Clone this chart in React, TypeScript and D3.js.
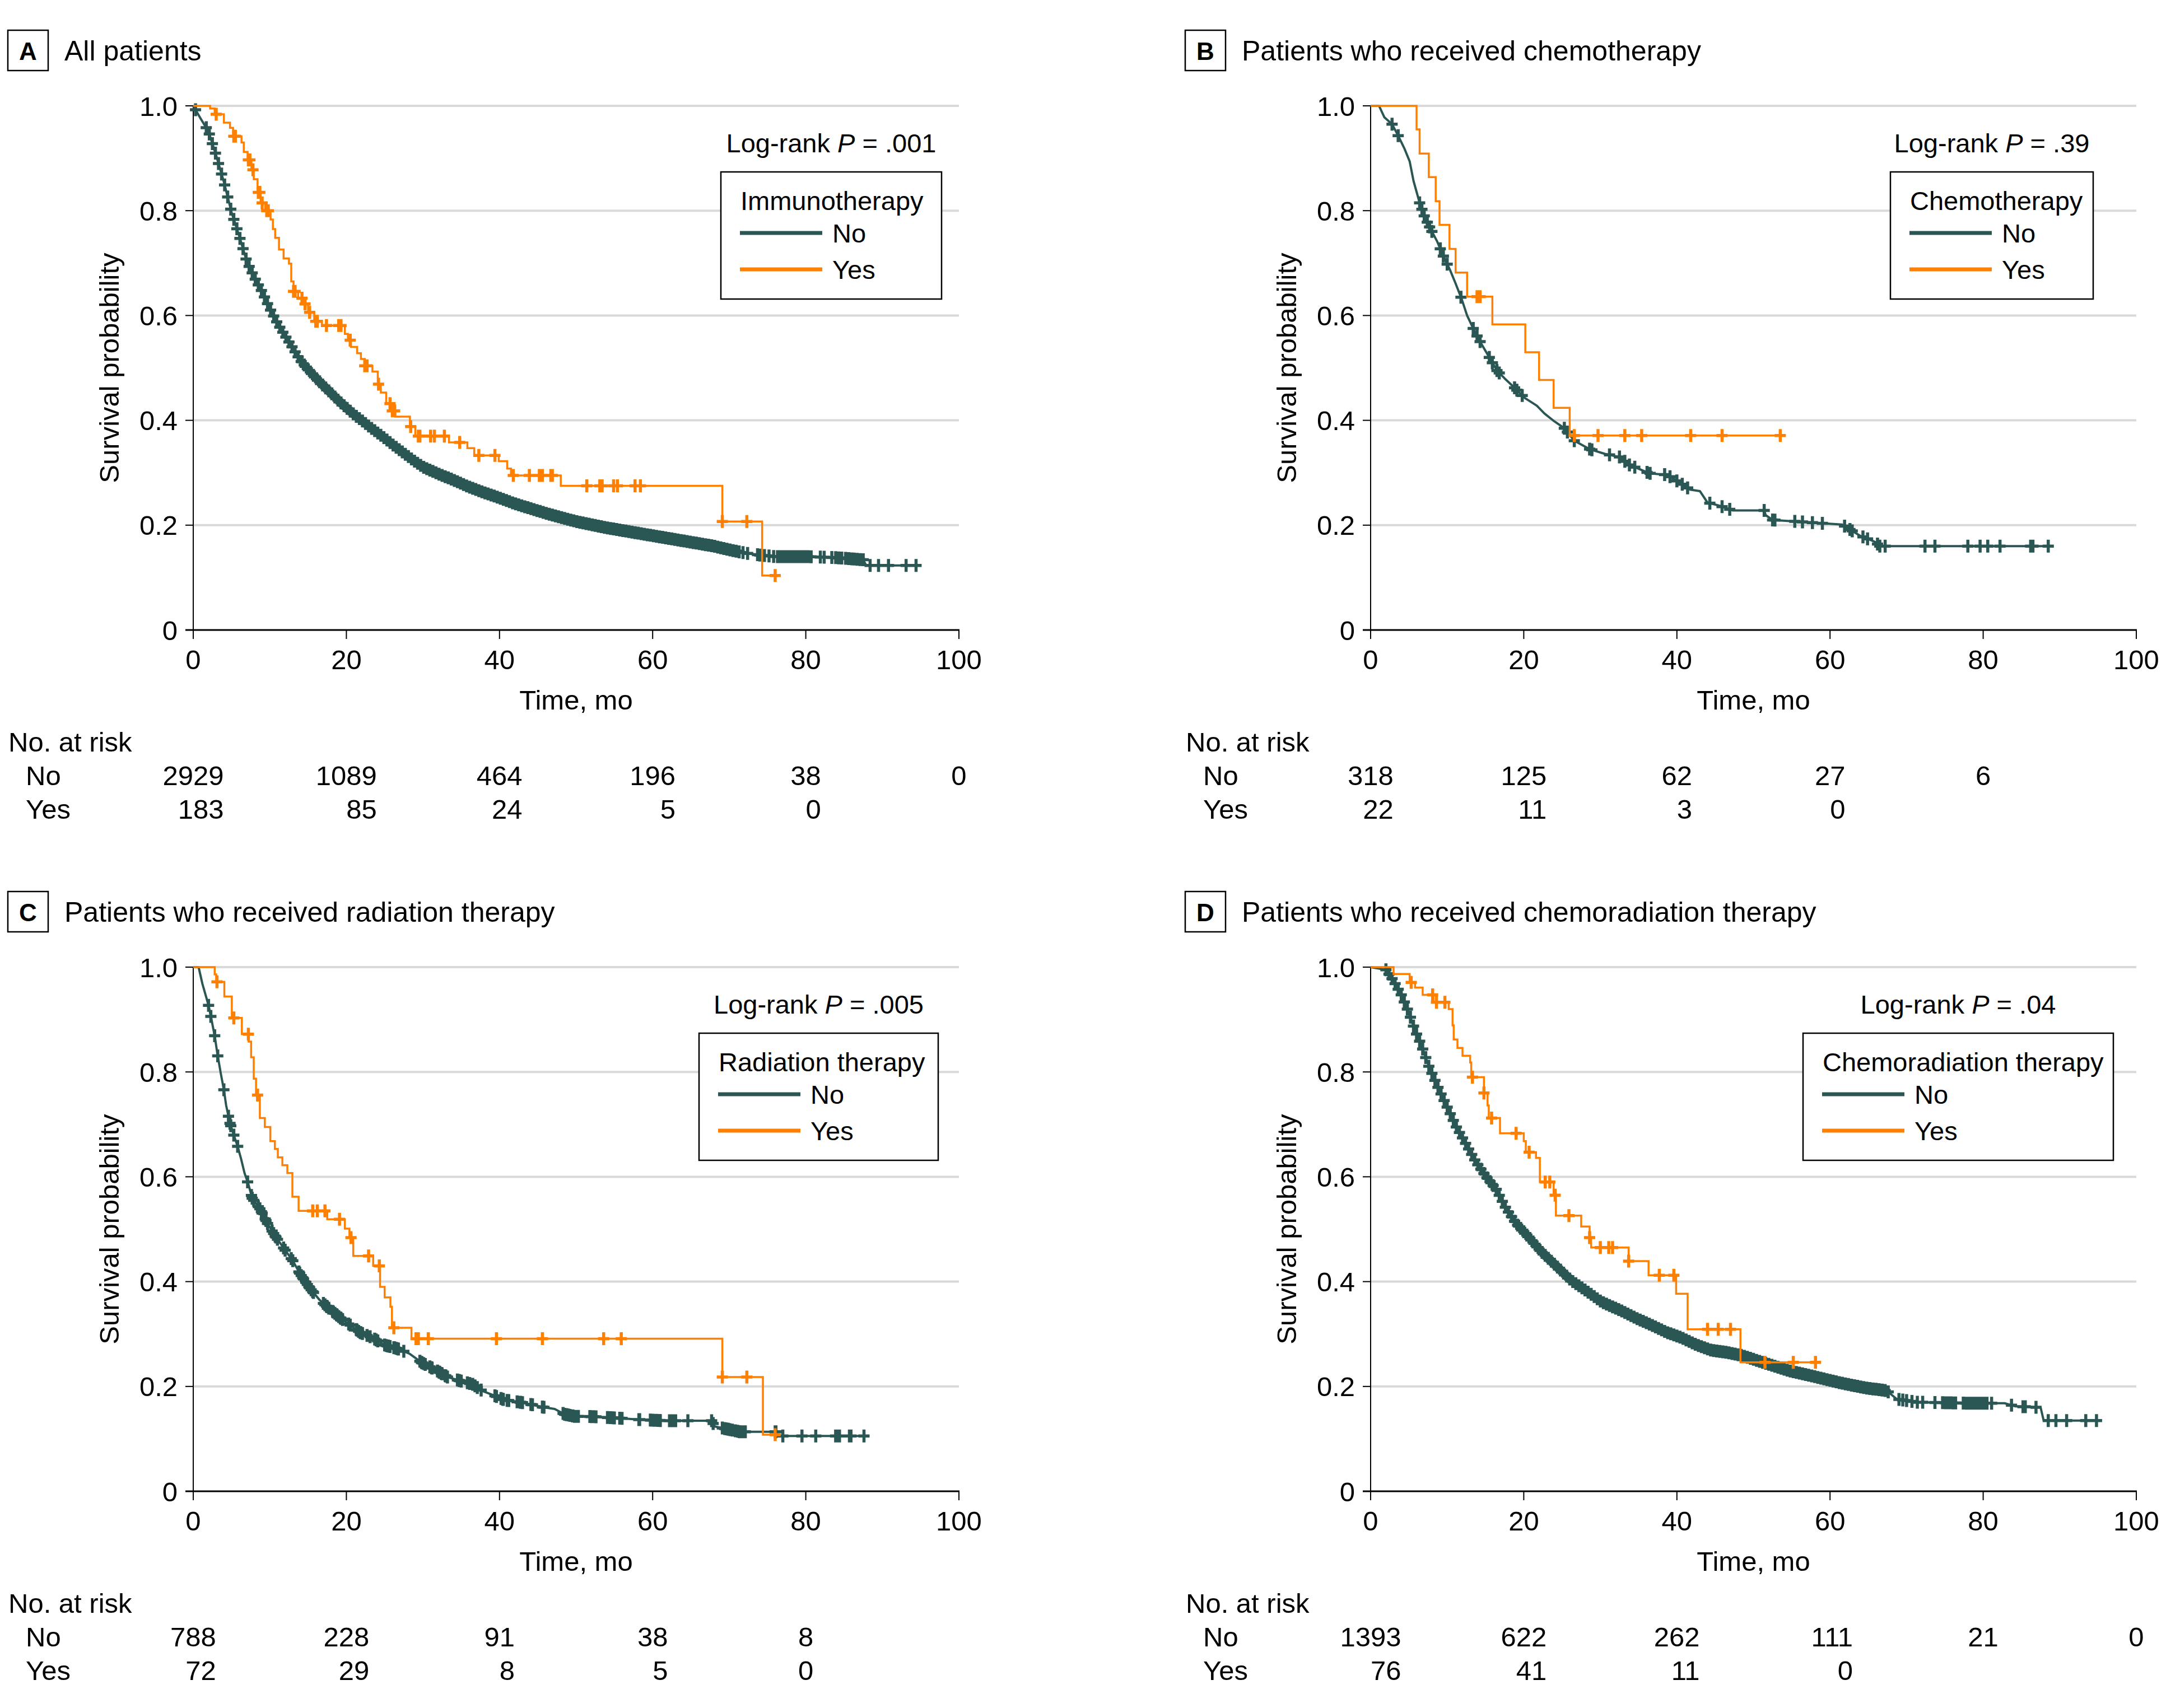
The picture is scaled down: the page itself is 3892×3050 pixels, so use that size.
import React from 'react';
import * as d3 from 'd3';

const FONT = "'Liberation Sans', Arial, Helvetica, sans-serif";
const TEAL = '#2a5654';
const ORANGE = '#ff8000';

// ---------- Panel texts ----------
const panelLetters = ['A', 'B', 'C', 'D'];
const panelTitles = [
  'All patients',
  'Patients who received chemotherapy',
  'Patients who received radiation therapy',
  'Patients who received chemoradiation therapy',
];
const legendTitles = ['Immunotherapy', 'Chemotherapy', 'Radiation therapy', 'Chemoradiation therapy'];
const groupLabels = ['No', 'Yes'];
const pValues = ['.001', '.39', '.005', '.04'];
const xTicks = [0, 20, 40, 60, 80, 100];
const yTicks = [0, 0.2, 0.4, 0.6, 0.8, 1.0];
const yTickLabels = ['0', '0.2', '0.4', '0.6', '0.8', '1.0'];

// ---------- Numbers at risk ----------
const riskNoA = ['2929', '1089', '464', '196', '38', '0'];
const riskYesA = ['183', '85', '24', '5', '0'];
const riskNoB = ['318', '125', '62', '27', '6'];
const riskYesB = ['22', '11', '3', '0'];
const riskNoC = ['788', '228', '91', '38', '8'];
const riskYesC = ['72', '29', '8', '5', '0'];
const riskNoD = ['1393', '622', '262', '111', '21', '0'];
const riskYesD = ['76', '41', '11', '0'];

// ---------- Panel A: all patients ----------
const aNoT = [0, 1, 2, 3, 4, 5, 6, 7, 8, 9, 10, 11, 12, 13, 14, 15, 16, 17, 18, 19, 20, 21, 22, 23, 24, 25, 26, 27, 28, 29, 30, 32, 34, 36, 38, 40, 42, 44, 46, 48, 50, 52, 54, 56, 58, 60, 62, 64, 66, 68, 70, 72, 74, 76, 80, 84, 87.5, 87.9, 95];
const aNoS = [1, 0.975, 0.951, 0.905, 0.855, 0.797, 0.752, 0.703, 0.672, 0.645, 0.613, 0.585, 0.561, 0.538, 0.514, 0.497, 0.481, 0.466, 0.452, 0.437, 0.424, 0.411, 0.4, 0.388, 0.377, 0.366, 0.354, 0.343, 0.332, 0.321, 0.311, 0.298, 0.286, 0.273, 0.262, 0.252, 0.241, 0.232, 0.223, 0.215, 0.207, 0.201, 0.195, 0.19, 0.185, 0.18, 0.175, 0.17, 0.165, 0.16, 0.153, 0.147, 0.143, 0.14, 0.14, 0.138, 0.134, 0.123, 0.123];
const aNoC = [0.3, 1.7, 2.1, 2.5, 2.9, 3.3, 3.7, 4.1, 4.5, 4.9, 5.3, 5.7, 6.1, 6.5, 6.9, 7.3, 7.7, 8.1, 8.5, 8.9, 9.3, 9.7, 10.1, 10.5, 10.9, 11.3, 11.7, 12.1, 12.5, 12.9, 13.3, 13.7, 14.1, 14.5, 14.9, 15.3, 15.7, 16.1, 16.5, 16.9, 17.3, 17.7, 18.1, 18.5, 18.9, 19.3, 19.7, 20.1, 20.5, 20.9, 21.3, 21.7, 22.1, 22.5, 22.9, 23.3, 23.7, 24.1, 24.5, 24.9, 25.3, 25.7, 26.1, 26.5, 26.9, 27.3, 27.7, 28.1, 28.5, 28.9, 29.3, 29.7, 30.1, 30.5, 30.9, 31.3, 31.7, 32.1, 32.5, 32.9, 33.3, 33.7, 34.1, 34.5, 34.9, 35.3, 35.7, 36.1, 36.5, 36.9, 37.3, 37.7, 38.1, 38.5, 38.9, 39.3, 39.7, 40.1, 40.5, 40.9, 41.3, 41.7, 42.1, 42.5, 42.9, 43.3, 43.7, 44.1, 44.5, 44.9, 45.3, 45.7, 46.1, 46.5, 46.9, 47.3, 47.7, 48.1, 48.5, 48.9, 49.3, 49.7, 50.1, 50.5, 50.9, 51.3, 51.7, 52.1, 52.5, 52.9, 53.3, 53.7, 54.1, 54.5, 54.9, 55.3, 55.7, 56.1, 56.5, 56.9, 57.3, 57.7, 58.1, 58.5, 58.9, 59.3, 59.7, 60.1, 60.5, 60.9, 61.3, 61.7, 62.1, 62.5, 62.9, 63.3, 63.7, 64.1, 64.5, 64.9, 65.3, 65.7, 66.1, 66.5, 66.9, 67.3, 67.7, 68.1, 68.5, 68.9, 69.3, 69.7, 70.1, 70.5, 70.9, 71.3, 71.8, 72.4, 73.7, 74.0, 74.6, 75.2, 75.8, 76.3, 76.7, 77.1, 77.5, 77.9, 78.3, 78.7, 79.1, 79.5, 79.9, 80.3, 80.7, 81.9, 82.4, 83.4, 83.9, 84.3, 84.7, 85.2, 85.6, 86.0, 86.3, 86.7, 87.1, 87.5, 88.4, 89.5, 90.8, 93.1, 94.4];
const aYesT = [0, 2.2, 2.8, 4.0, 4.8, 5.2, 6.3, 6.6, 7.1, 7.6, 7.9, 8.4, 8.8, 9.4, 10.1, 10.4, 10.7, 11.2, 11.8, 12.5, 12.8, 13.1, 13.7, 14.4, 15.0, 15.8, 16.8, 19.8, 20.2, 20.6, 21.4, 21.9, 22.4, 23.4, 24.1, 24.5, 25.2, 25.8, 26.4, 28.3, 29.0, 33.4, 35.8, 36.7, 39.9, 41.0, 41.5, 48.0, 69.1, 74.3, 76.0];
const aYesS = [1, 0.995, 0.984, 0.968, 0.958, 0.942, 0.93, 0.912, 0.897, 0.878, 0.86, 0.835, 0.815, 0.8, 0.783, 0.765, 0.748, 0.726, 0.709, 0.699, 0.665, 0.646, 0.633, 0.622, 0.606, 0.589, 0.581, 0.565, 0.553, 0.54, 0.528, 0.517, 0.504, 0.493, 0.469, 0.453, 0.432, 0.418, 0.407, 0.388, 0.37, 0.358, 0.347, 0.333, 0.322, 0.308, 0.295, 0.275, 0.207, 0.104, 0.104];
const aYesC = [3.0, 5.3, 5.5, 7.2, 7.4, 7.8, 8.5, 8.7, 9.0, 9.6, 9.8, 13.1, 13.3, 14.2, 14.6, 15.2, 16.0, 16.2, 17.4, 19.0, 19.3, 20.5, 22.4, 22.7, 24.2, 25.7, 26.0, 26.3, 28.4, 29.4, 29.6, 31.0, 31.5, 32.8, 34.8, 37.3, 39.4, 41.8, 43.9, 45.2, 45.6, 46.7, 46.9, 51.4, 53.1, 53.4, 54.9, 55.4, 57.7, 58.4, 69.1, 72.3, 76.0];

// ---------- Panel B: chemotherapy ----------
const bNoT = [0, 1.1, 1.8, 2.8, 3.6, 4.4, 5.1, 5.6, 6.4, 7.0, 7.8, 8.7, 9.6, 10.4, 11.1, 11.9, 12.6, 13.6, 14.5, 15.5, 16.5, 17.5, 18.8, 20.1, 21.7, 22.7, 24.0, 25.3, 26.6, 28.6, 30.6, 32.5, 33.8, 36.4, 38.7, 40.4, 41.7, 43.0, 44.0, 45.6, 47.3, 51.4, 51.6, 52.5, 61.6, 62.9, 63.9, 64.9, 65.9, 66.5, 88.8];
const bNoS = [1, 1, 0.978, 0.965, 0.943, 0.919, 0.894, 0.857, 0.815, 0.79, 0.766, 0.741, 0.71, 0.686, 0.661, 0.631, 0.6, 0.569, 0.545, 0.52, 0.495, 0.48, 0.462, 0.443, 0.428, 0.413, 0.398, 0.385, 0.361, 0.345, 0.336, 0.33, 0.315, 0.299, 0.296, 0.281, 0.268, 0.265, 0.243, 0.237, 0.228, 0.228, 0.219, 0.21, 0.201, 0.189, 0.18, 0.174, 0.168, 0.16, 0.16];
const bNoC = [2.8, 3.6, 6.4, 6.7, 7.0, 7.4, 7.7, 8.0, 9.1, 9.5, 10.0, 11.8, 13.4, 13.9, 14.3, 15.5, 15.9, 16.5, 16.8, 18.8, 19.1, 19.8, 25.3, 25.7, 26.6, 28.6, 28.9, 31.2, 32.5, 33.2, 33.8, 34.5, 36.1, 36.5, 38.4, 39.1, 40.0, 40.7, 41.4, 44.3, 45.9, 46.9, 51.4, 52.5, 52.8, 55.4, 56.4, 57.7, 59.0, 61.9, 62.6, 62.9, 64.3, 64.9, 66.2, 66.5, 67.2, 72.4, 73.7, 78.0, 79.6, 80.6, 82.2, 86.2, 86.5, 88.5];
const bYesT = [0, 6.0, 6.4, 7.6, 8.5, 9.0, 10.3, 11.1, 12.6, 15.9, 20.2, 22.0, 23.9, 26.0, 53.5];
const bYesS = [1, 0.955, 0.909, 0.864, 0.818, 0.773, 0.727, 0.682, 0.636, 0.583, 0.53, 0.477, 0.424, 0.371, 0.371];
const bYesC = [13.9, 14.3, 26.6, 29.7, 33.2, 35.4, 41.8, 45.9, 53.5];

// ---------- Panel C: radiation therapy ----------
const cNoT = [0, 0.7, 1.2, 2.0, 2.3, 2.8, 3.15, 3.6, 4.0, 4.3, 4.8, 5.4, 5.8, 6.25, 6.7, 7.2, 7.7, 8.7, 9.7, 10.7, 12.0, 13.0, 13.9, 15.2, 16.5, 17.8, 19.2, 20.5, 21.8, 23.4, 25.0, 26.7, 28.3, 29.9, 31.6, 33.2, 34.8, 36.5, 37.8, 39.1, 40.7, 42.7, 44.6, 45.9, 47.2, 48.5, 49.8, 51.3, 54.6, 58.0, 61.4, 67.7, 68.1, 71.4, 76.1, 76.5, 87.6];
const cNoS = [1, 1, 0.968, 0.927, 0.906, 0.869, 0.835, 0.797, 0.766, 0.736, 0.702, 0.675, 0.658, 0.634, 0.607, 0.586, 0.559, 0.539, 0.511, 0.487, 0.46, 0.44, 0.416, 0.388, 0.365, 0.348, 0.331, 0.317, 0.303, 0.293, 0.279, 0.272, 0.262, 0.245, 0.232, 0.218, 0.211, 0.204, 0.191, 0.184, 0.174, 0.17, 0.164, 0.16, 0.157, 0.147, 0.143, 0.143, 0.1405, 0.137, 0.1347, 0.1347, 0.1237, 0.1136, 0.1136, 0.1055, 0.1055];
const cNoC = [2.0, 2.3, 2.8, 3.2, 4.0, 4.6, 4.8, 4.9, 5.3, 5.8, 7.1, 7.6, 7.7, 7.9, 8.5, 8.7, 8.9, 9.0, 9.4, 9.5, 9.7, 10.3, 10.5, 10.7, 10.8, 11.0, 11.8, 12.0, 12.8, 13.0, 13.8, 13.9, 14.1, 14.3, 14.4, 14.7, 14.9, 15.1, 15.2, 15.4, 15.6, 15.7, 17.0, 17.2, 17.4, 17.5, 17.7, 18.2, 18.3, 18.5, 18.7, 18.8, 19.0, 19.2, 19.3, 19.5, 20.3, 20.5, 21.3, 21.4, 21.6, 21.8, 21.9, 22.1, 22.7, 23.1, 23.7, 23.9, 24.1, 25.0, 25.2, 25.4, 25.5, 25.7, 26.2, 26.3, 26.5, 26.7, 26.8, 27.5, 29.6, 29.8, 29.9, 30.1, 30.3, 30.9, 31.1, 31.2, 31.9, 32.1, 32.2, 32.4, 32.5, 32.9, 33.0, 33.2, 34.5, 34.7, 34.8, 35.0, 35.8, 36.1, 36.5, 36.8, 37.1, 37.6, 39.4, 39.6, 40.2, 40.4, 40.5, 41.0, 41.2, 42.3, 42.7, 42.8, 43.0, 44.1, 44.3, 45.6, 45.8, 48.3, 48.5, 48.7, 48.8, 49.0, 49.2, 49.5, 49.6, 49.8, 50.1, 50.3, 51.8, 52.0, 52.1, 52.3, 52.6, 54.1, 54.5, 54.8, 55.0, 55.7, 56.0, 58.2, 58.3, 59.7, 59.8, 60.0, 60.2, 60.4, 60.5, 60.7, 60.9, 61.0, 62.2, 62.4, 62.5, 62.7, 62.9, 63.0, 64.6, 67.7, 67.9, 69.1, 69.4, 69.6, 69.8, 69.9, 70.1, 70.4, 70.8, 71.1, 71.3, 71.4, 71.8, 72.1, 76.0, 76.1, 77.0, 79.5, 81.3, 83.9, 84.0, 84.2, 84.4, 85.7, 85.9, 87.6];
const cYesT = [0, 2.8, 3.0, 4.06, 5.04, 6.35, 7.23, 7.56, 7.9, 8.2, 8.7, 9.35, 10.07, 10.66, 11.05, 11.64, 12.29, 12.95, 13.76, 17.5, 19.8, 20.4, 20.9, 23.5, 24.4, 25.0, 25.75, 25.95, 28.5, 69.1, 74.4, 76.5];
const cYesS = [1, 0.986, 0.972, 0.944, 0.903, 0.872, 0.858, 0.828, 0.787, 0.756, 0.712, 0.695, 0.668, 0.653, 0.637, 0.622, 0.607, 0.562, 0.535, 0.519, 0.501, 0.484, 0.449, 0.43, 0.39, 0.37, 0.352, 0.312, 0.291, 0.218, 0.108, 0.108];
const cYesC = [3.1, 5.3, 7.2, 8.4, 15.6, 16.2, 17.2, 19.1, 20.6, 22.9, 24.3, 26.2, 29.1, 29.4, 30.7, 39.6, 45.6, 53.6, 55.9, 69.1, 72.3, 76.0];

// ---------- Panel D: chemoradiation therapy ----------
const dNoT = [0, 2.0, 3.0, 4.0, 5.0, 5.8, 6.6, 7.6, 8.6, 9.9, 11.2, 12.5, 13.8, 15.1, 16.4, 17.7, 19.0, 20.7, 22.3, 24.3, 26.2, 28.2, 30.2, 32.8, 34.7, 36.7, 38.7, 40.6, 42.6, 44.5, 46.5, 48.5, 51.2, 54.6, 57.9, 61.3, 64.7, 67.4, 68.7, 71.4, 78.1, 82.8, 84.2, 87.5, 87.9, 95.3];
const dNoS = [1, 0.995, 0.974, 0.947, 0.913, 0.879, 0.852, 0.811, 0.777, 0.736, 0.695, 0.661, 0.627, 0.6, 0.576, 0.539, 0.511, 0.484, 0.457, 0.429, 0.402, 0.382, 0.361, 0.344, 0.33, 0.317, 0.303, 0.293, 0.279, 0.269, 0.265, 0.259, 0.246, 0.23, 0.219, 0.207, 0.197, 0.192, 0.176, 0.17, 0.168, 0.168, 0.162, 0.16, 0.135, 0.135];
const dNoC = [2.0, 2.4, 2.8, 3.2, 3.6, 4.0, 4.4, 4.8, 5.2, 5.6, 6.0, 6.4, 6.8, 7.2, 7.6, 8.0, 8.4, 8.8, 9.2, 9.6, 10.0, 10.4, 10.8, 11.2, 11.6, 12.0, 12.4, 12.8, 13.2, 13.6, 14.0, 14.4, 14.8, 15.2, 15.6, 16.0, 16.4, 16.8, 17.2, 17.6, 18.0, 18.4, 18.8, 19.2, 19.6, 20.0, 20.4, 20.8, 21.2, 21.6, 22.0, 22.4, 22.8, 23.2, 23.6, 24.0, 24.4, 24.8, 25.2, 25.6, 26.0, 26.4, 26.8, 27.2, 27.6, 28.0, 28.4, 28.8, 29.2, 29.6, 30.0, 30.4, 30.8, 31.2, 31.6, 32.0, 32.4, 32.8, 33.2, 33.6, 34.0, 34.4, 34.8, 35.2, 35.6, 36.0, 36.4, 36.8, 37.2, 37.6, 38.0, 38.4, 38.8, 39.2, 39.6, 40.0, 40.4, 40.8, 41.2, 41.6, 42.0, 42.4, 42.8, 43.2, 43.6, 44.0, 44.4, 44.8, 45.2, 45.6, 46.0, 46.4, 46.8, 47.2, 47.6, 48.0, 48.4, 48.8, 49.2, 49.6, 50.0, 50.4, 50.8, 51.2, 51.6, 52.0, 52.4, 52.8, 53.2, 53.6, 54.0, 54.4, 54.8, 55.2, 55.6, 56.0, 56.4, 56.8, 57.2, 57.6, 58.0, 58.4, 58.8, 59.2, 59.6, 60.0, 60.4, 60.8, 61.2, 61.6, 62.0, 62.4, 62.8, 63.2, 63.6, 64.0, 64.4, 64.8, 65.2, 65.6, 66.0, 66.4, 66.8, 67.2, 67.6, 69.0, 69.5, 70.0, 70.7, 71.4, 72.1, 73.7, 74.7, 75.1, 75.4, 75.8, 76.1, 76.4, 77.4, 77.8, 78.1, 78.4, 78.8, 79.1, 79.5, 79.8, 80.1, 80.5, 81.1, 83.7, 85.2, 85.5, 86.9, 88.5, 89.5, 90.9, 93.4, 94.8];
const dYesT = [0, 3.0, 5.1, 5.8, 6.8, 8.2, 10.2, 10.7, 10.85, 11.34, 12.0, 13.0, 13.14, 14.8, 15.27, 15.43, 16.9, 20.0, 20.27, 21.6, 22.1, 23.9, 24.2, 27.5, 28.6, 28.8, 33.7, 36.3, 39.9, 41.4, 48.3, 58.1];
const dYesS = [1, 0.987, 0.971, 0.961, 0.947, 0.933, 0.92, 0.889, 0.862, 0.846, 0.831, 0.818, 0.79, 0.76, 0.736, 0.712, 0.683, 0.668, 0.647, 0.636, 0.59, 0.565, 0.526, 0.505, 0.484, 0.465, 0.439, 0.412, 0.377, 0.309, 0.246, 0.246];
const dYesC = [5.3, 8.1, 8.6, 9.7, 13.3, 14.8, 15.8, 19.0, 20.7, 22.8, 23.4, 24.1, 25.9, 28.6, 30.0, 31.1, 31.6, 33.7, 37.7, 39.6, 44.0, 45.4, 47.0, 51.5, 55.2, 58.1];

// ---------- layout (pixels) ----------
const W = 3892;
const H = 3050;
const panelOrigins = [[0, 0], [2102, 0], [0, 1538], [2102, 1538]];
const legendBoxX = [1287, 1273, 1248, 1117];
const legendBoxW = [394, 362, 427, 554];

const curves = [
  { no: { t: aNoT, s: aNoS, c: aNoC }, yes: { t: aYesT, s: aYesS, c: aYesC }, riskNo: riskNoA, riskYes: riskYesA },
  { no: { t: bNoT, s: bNoS, c: bNoC }, yes: { t: bYesT, s: bYesS, c: bYesC }, riskNo: riskNoB, riskYes: riskYesB },
  { no: { t: cNoT, s: cNoS, c: cNoC }, yes: { t: cYesT, s: cYesS, c: cYesC }, riskNo: riskNoC, riskYes: riskYesC },
  { no: { t: dNoT, s: dNoS, c: dNoC }, yes: { t: dYesT, s: dYesS, c: dYesC }, riskNo: riskNoD, riskYes: riskYesD },
];

const X0 = 345, X1 = 1712, YT = 189, YB = 1125;
const FS = 49;
const DIGIT_W = 27.2;

function crossPath(px: number, py: number) {
  return `M${px - 10},${py}H${px + 10}M${px},${py - 11.5}V${py + 11.5}`;
}

function Panel({ i }: { i: number }) {
  const [ox, oy] = panelOrigins[i];
  const x = d3.scaleLinear().domain([0, 100]).range([X0, X1]);
  const y = d3.scaleLinear().domain([0, 1]).range([YB, YT]);
  const cv = curves[i];

  const noPts = cv.no.t.map((t, k) => [t, cv.no.s[k]] as [number, number]);
  const yesPts = cv.yes.t.map((t, k) => [t, cv.yes.s[k]] as [number, number]);
  const lin = d3.line<[number, number]>().x(d => x(d[0])).y(d => y(d[1])).curve(d3.curveLinear);
  const stp = d3.line<[number, number]>().x(d => x(d[0])).y(d => y(d[1])).curve(d3.curveStepAfter);
  const noInterp = d3.scaleLinear().domain(cv.no.t).range(cv.no.s).clamp(true);
  const yesAt = (t: number) => {
    const k = Math.max(0, d3.bisectRight(cv.yes.t, t) - 1);
    return cv.yes.s[k];
  };
  const noCross = cv.no.c.map(t => crossPath(x(t), y(noInterp(t)))).join('');
  const yesCross = cv.yes.c.map(t => crossPath(x(t), y(yesAt(t)))).join('');

  const bx = legendBoxX[i];
  const bw = legendBoxW[i];
  const by = 307;
  const bh = 227;

  const riskCols = xTicks.map((t, k) => {
    const a = cv.riskNo[k];
    const b = cv.riskYes[k];
    const n = Math.max(a ? a.length : 0, b ? b.length : 0);
    return x(t) + (n * DIGIT_W) / 2;
  });

  return (
    <g transform={`translate(${ox},${oy})`} fontFamily={FONT} fill="#000">
      {/* title */}
      <rect x={14} y={54} width={72} height={72} fill="none" stroke="#000" strokeWidth={2.5} />
      <text x={50} y={107} fontSize={44} fontWeight="bold" textAnchor="middle">{panelLetters[i]}</text>
      <text x={115} y={108} fontSize={50}>{panelTitles[i]}</text>

      {/* gridlines */}
      {yTicks.filter(v => v > 0).map(v => (
        <line key={'g' + v} x1={X0} x2={X1} y1={y(v)} y2={y(v)} stroke="#d9d9d9" strokeWidth={4} />
      ))}

      {/* y axis */}
      <line x1={X0} x2={X0} y1={YT} y2={YB} stroke="#000" strokeWidth={2} />
      {yTicks.map((v, k) => (
        <g key={'yt' + k}>
          <line x1={X0 - 14} x2={X0} y1={y(v)} y2={y(v)} stroke="#000" strokeWidth={2} />
          <text x={317} y={y(v)} dy="0.36em" fontSize={FS} textAnchor="end">{yTickLabels[k]}</text>
        </g>
      ))}
      <text transform={`translate(212,${(YT + YB) / 2}) rotate(-90)`} fontSize={FS} textAnchor="middle">Survival probability</text>

      {/* x axis */}
      <line x1={X0 - 14} x2={X1 + 1} y1={YB} y2={YB} stroke="#000" strokeWidth={3} />
      {xTicks.map(v => (
        <g key={'xt' + v}>
          <line x1={x(v)} x2={x(v)} y1={YB} y2={YB + 16} stroke="#000" strokeWidth={2} />
          <text x={x(v)} y={1195} fontSize={FS} textAnchor="middle">{v}</text>
        </g>
      ))}
      <text x={(X0 + X1) / 2} y={1267} fontSize={FS} textAnchor="middle">Time, mo</text>

      {/* curves */}
      <path d={lin(noPts) || ''} fill="none" stroke={TEAL} strokeWidth={4} strokeLinejoin="round" />
      <path d={noCross} fill="none" stroke={TEAL} strokeWidth={5.5} />
      <path d={stp(yesPts) || ''} fill="none" stroke={ORANGE} strokeWidth={3.5} />
      <path d={yesCross} fill="none" stroke={ORANGE} strokeWidth={5.5} />

      {/* log-rank + legend */}
      <text x={bx + bw / 2} y={272} fontSize={47} textAnchor="middle">
        Log-rank <tspan fontStyle="italic">P</tspan> = {pValues[i]}
      </text>
      <rect x={bx} y={by} width={bw} height={bh} fill="#fff" stroke="#000" strokeWidth={2.5} />
      <text x={bx + 35} y={by + 68} fontSize={47}>{legendTitles[i]}</text>
      <line x1={bx + 34} x2={bx + 181} y1={by + 109} y2={by + 109} stroke={TEAL} strokeWidth={7} />
      <text x={bx + 199} y={by + 126} fontSize={47}>{groupLabels[0]}</text>
      <line x1={bx + 34} x2={bx + 181} y1={by + 174} y2={by + 174} stroke={ORANGE} strokeWidth={7} />
      <text x={bx + 199} y={by + 191} fontSize={47}>{groupLabels[1]}</text>

      {/* risk table */}
      <text x={15} y={1342} fontSize={FS}>No. at risk</text>
      <text x={46} y={1402} fontSize={FS}>{groupLabels[0]}</text>
      <text x={46} y={1462} fontSize={FS}>{groupLabels[1]}</text>
      {cv.riskNo.map((v, k) => (
        <text key={'rn' + k} x={riskCols[k]} y={1402} fontSize={FS} textAnchor="end">{v}</text>
      ))}
      {cv.riskYes.map((v, k) => (
        <text key={'ry' + k} x={riskCols[k]} y={1462} fontSize={FS} textAnchor="end">{v}</text>
      ))}
    </g>
  );
}

export default function App() {
  return (
    <svg width={W} height={H} viewBox={`0 0 ${W} ${H}`} style={{ position: 'absolute', left: 0, top: 0, background: '#fff' }}>
      <rect x={0} y={0} width={W} height={H} fill="#fff" />
      {[0, 1, 2, 3].map(i => <Panel key={i} i={i} />)}
    </svg>
  );
}
